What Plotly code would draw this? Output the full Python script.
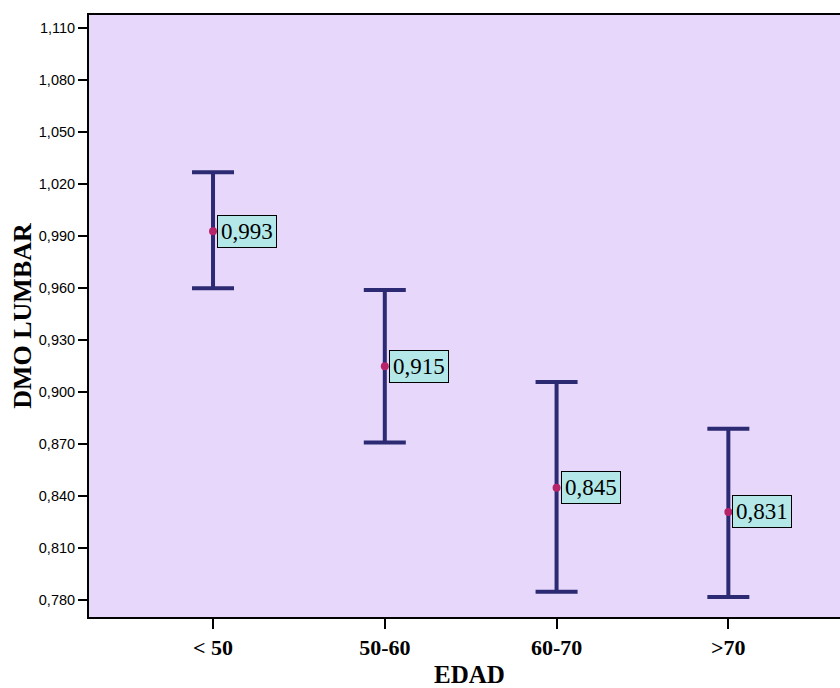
import plotly.graph_objects as go

# Age groups and lumbar BMD (mean with 95% CI bounds)
categories = ["< 50", "50-60", "60-70", ">70"]
means = [0.993, 0.915, 0.845, 0.831]
lower = [0.960, 0.871, 0.785, 0.782]
upper = [1.027, 0.959, 0.906, 0.879]

y_ticks = [0.780, 0.810, 0.840, 0.870, 0.900, 0.930, 0.960, 0.990, 1.020, 1.050, 1.080, 1.110]

x_idx = list(range(len(categories)))
err_plus = [u - m for u, m in zip(upper, means)]
err_minus = [m - l for m, l in zip(means, lower)]

fig = go.Figure()
fig.add_trace(go.Scatter(
    x=x_idx, y=means, mode="markers",
    marker=dict(color="#B8246A", size=8),
    error_y=dict(type="data", symmetric=False, array=err_plus, arrayminus=err_minus,
                 color="#2B2A72", thickness=4, width=21),
    showlegend=False, hoverinfo="skip",
))

for xi, m in zip(x_idx, means):
    fig.add_annotation(
        x=xi, y=m, text=f"{m:.3f}".replace(".", ","),
        xanchor="left", yanchor="middle", xshift=4, showarrow=False,
        font=dict(family="Liberation Serif", size=23, color="black"),
        bgcolor="#B4E8E8", bordercolor="black", borderwidth=1, borderpad=3,
    )

# x-axis title placed just below the category labels
fig.add_annotation(
    x=0.507, y=-0.0947, xref="paper", yref="paper", text="EDAD", showarrow=False,
    xanchor="center", yanchor="middle",
    font=dict(family="Liberation Serif", size=25, color="black", weight="bold"),
)

fig.update_layout(
    width=840, height=688,
    margin=dict(l=89, r=0, t=15, b=71),
    paper_bgcolor="white", plot_bgcolor="#E7D8FB",
    separators=",.",
    xaxis=dict(
        range=[-0.722, 3.65], tickmode="array", tickvals=x_idx, ticktext=categories,
        showline=True, linecolor="black", linewidth=2, mirror=True,
        ticks="outside", ticklen=10, tickwidth=2, tickcolor="black",
        showgrid=False, zeroline=False,
        tickfont=dict(family="Liberation Serif", size=22, color="black", weight="bold"),
    ),
    yaxis=dict(
        range=[0.7704, 1.1177], tickmode="array", tickvals=y_ticks, tickformat=".3f",
        showline=True, linecolor="black", linewidth=2,
        ticks="outside", ticklen=9, tickwidth=2, tickcolor="black",
        showgrid=False, zeroline=False,
        tickfont=dict(family="Liberation Sans", size=14.5, color="black"),
        title=dict(text="DMO LUMBAR", standoff=0,
                   font=dict(family="Liberation Serif", size=26, color="black", weight="bold")),
    ),
)

fig.write_html("out.html")
